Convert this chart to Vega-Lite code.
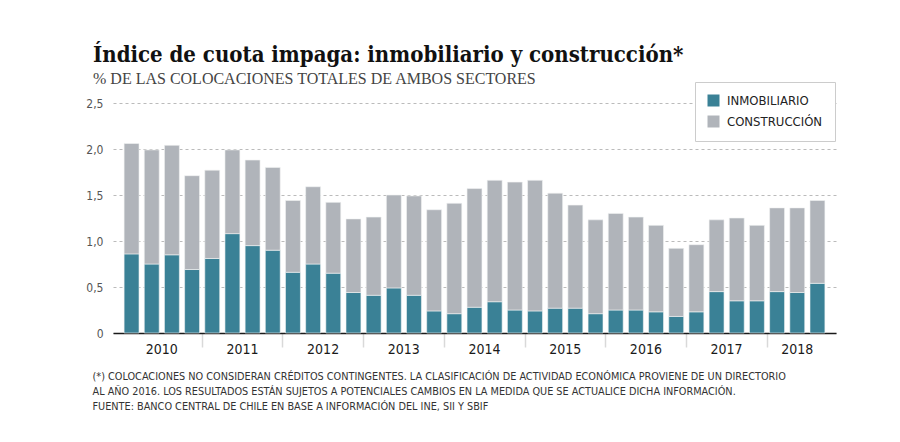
{
  "$schema": "https://vega.github.io/schema/vega-lite/v6.json",
  "width": 723,
  "height": 230,
  "autosize": {"type": "none"},
  "padding": {"left": 113, "top": 103, "right": 64, "bottom": 109},
  "background": "white",
  "title": {
    "text": "Índice de cuota impaga: inmobiliario y construcción*",
    "subtitle": "% DE LAS COLOCACIONES TOTALES DE AMBOS SECTORES",
    "anchor": "start",
    "frame": "group",
    "dx": -20,
    "offset": -6,
    "font": "DejaVu Serif Condensed",
    "fontSize": 22,
    "fontWeight": "bold",
    "color": "#111111",
    "subtitleFont": "Liberation Serif",
    "subtitleFontSize": 16,
    "subtitleColor": "#444444",
    "subtitlePadding": 4
  },
  "data": {
    "values": [
      {"q": "2010-1", "series": "INMOBILIARIO", "value": 0.86}, {"q": "2010-1", "series": "CONSTRUCCIÓN", "value": 1.20},
      {"q": "2010-2", "series": "INMOBILIARIO", "value": 0.75}, {"q": "2010-2", "series": "CONSTRUCCIÓN", "value": 1.24},
      {"q": "2010-3", "series": "INMOBILIARIO", "value": 0.85}, {"q": "2010-3", "series": "CONSTRUCCIÓN", "value": 1.19},
      {"q": "2010-4", "series": "INMOBILIARIO", "value": 0.69}, {"q": "2010-4", "series": "CONSTRUCCIÓN", "value": 1.02},
      {"q": "2011-1", "series": "INMOBILIARIO", "value": 0.81}, {"q": "2011-1", "series": "CONSTRUCCIÓN", "value": 0.96},
      {"q": "2011-2", "series": "INMOBILIARIO", "value": 1.08}, {"q": "2011-2", "series": "CONSTRUCCIÓN", "value": 0.91},
      {"q": "2011-3", "series": "INMOBILIARIO", "value": 0.95}, {"q": "2011-3", "series": "CONSTRUCCIÓN", "value": 0.93},
      {"q": "2011-4", "series": "INMOBILIARIO", "value": 0.90}, {"q": "2011-4", "series": "CONSTRUCCIÓN", "value": 0.90},
      {"q": "2012-1", "series": "INMOBILIARIO", "value": 0.66}, {"q": "2012-1", "series": "CONSTRUCCIÓN", "value": 0.78},
      {"q": "2012-2", "series": "INMOBILIARIO", "value": 0.75}, {"q": "2012-2", "series": "CONSTRUCCIÓN", "value": 0.84},
      {"q": "2012-3", "series": "INMOBILIARIO", "value": 0.65}, {"q": "2012-3", "series": "CONSTRUCCIÓN", "value": 0.77},
      {"q": "2012-4", "series": "INMOBILIARIO", "value": 0.44}, {"q": "2012-4", "series": "CONSTRUCCIÓN", "value": 0.80},
      {"q": "2013-1", "series": "INMOBILIARIO", "value": 0.41}, {"q": "2013-1", "series": "CONSTRUCCIÓN", "value": 0.85},
      {"q": "2013-2", "series": "INMOBILIARIO", "value": 0.49}, {"q": "2013-2", "series": "CONSTRUCCIÓN", "value": 1.01},
      {"q": "2013-3", "series": "INMOBILIARIO", "value": 0.41}, {"q": "2013-3", "series": "CONSTRUCCIÓN", "value": 1.08},
      {"q": "2013-4", "series": "INMOBILIARIO", "value": 0.24}, {"q": "2013-4", "series": "CONSTRUCCIÓN", "value": 1.10},
      {"q": "2014-1", "series": "INMOBILIARIO", "value": 0.21}, {"q": "2014-1", "series": "CONSTRUCCIÓN", "value": 1.20},
      {"q": "2014-2", "series": "INMOBILIARIO", "value": 0.28}, {"q": "2014-2", "series": "CONSTRUCCIÓN", "value": 1.29},
      {"q": "2014-3", "series": "INMOBILIARIO", "value": 0.34}, {"q": "2014-3", "series": "CONSTRUCCIÓN", "value": 1.32},
      {"q": "2014-4", "series": "INMOBILIARIO", "value": 0.25}, {"q": "2014-4", "series": "CONSTRUCCIÓN", "value": 1.39},
      {"q": "2015-1", "series": "INMOBILIARIO", "value": 0.24}, {"q": "2015-1", "series": "CONSTRUCCIÓN", "value": 1.42},
      {"q": "2015-2", "series": "INMOBILIARIO", "value": 0.27}, {"q": "2015-2", "series": "CONSTRUCCIÓN", "value": 1.25},
      {"q": "2015-3", "series": "INMOBILIARIO", "value": 0.27}, {"q": "2015-3", "series": "CONSTRUCCIÓN", "value": 1.12},
      {"q": "2015-4", "series": "INMOBILIARIO", "value": 0.21}, {"q": "2015-4", "series": "CONSTRUCCIÓN", "value": 1.02},
      {"q": "2016-1", "series": "INMOBILIARIO", "value": 0.25}, {"q": "2016-1", "series": "CONSTRUCCIÓN", "value": 1.05},
      {"q": "2016-2", "series": "INMOBILIARIO", "value": 0.25}, {"q": "2016-2", "series": "CONSTRUCCIÓN", "value": 1.01},
      {"q": "2016-3", "series": "INMOBILIARIO", "value": 0.23}, {"q": "2016-3", "series": "CONSTRUCCIÓN", "value": 0.94},
      {"q": "2016-4", "series": "INMOBILIARIO", "value": 0.18}, {"q": "2016-4", "series": "CONSTRUCCIÓN", "value": 0.74},
      {"q": "2017-1", "series": "INMOBILIARIO", "value": 0.23}, {"q": "2017-1", "series": "CONSTRUCCIÓN", "value": 0.73},
      {"q": "2017-2", "series": "INMOBILIARIO", "value": 0.45}, {"q": "2017-2", "series": "CONSTRUCCIÓN", "value": 0.78},
      {"q": "2017-3", "series": "INMOBILIARIO", "value": 0.35}, {"q": "2017-3", "series": "CONSTRUCCIÓN", "value": 0.90},
      {"q": "2017-4", "series": "INMOBILIARIO", "value": 0.35}, {"q": "2017-4", "series": "CONSTRUCCIÓN", "value": 0.82},
      {"q": "2018-1", "series": "INMOBILIARIO", "value": 0.45}, {"q": "2018-1", "series": "CONSTRUCCIÓN", "value": 0.91},
      {"q": "2018-2", "series": "INMOBILIARIO", "value": 0.44}, {"q": "2018-2", "series": "CONSTRUCCIÓN", "value": 0.92},
      {"q": "2018-3", "series": "INMOBILIARIO", "value": 0.54}, {"q": "2018-3", "series": "CONSTRUCCIÓN", "value": 0.90}
    ]
  },
  "mark": {"type": "bar", "stroke": "#f2f3f4", "strokeWidth": 0.6},
  "encoding": {
    "x": {
      "field": "q",
      "type": "nominal",
      "sort": null,
      "scale": {"paddingInner": 0.26, "paddingOuter": 0.55},
      "axis": {
        "title": [
          "(*) COLOCACIONES NO CONSIDERAN CRÉDITOS CONTINGENTES. LA CLASIFICACIÓN DE ACTIVIDAD ECONÓMICA PROVIENE DE UN DIRECTORIO",
          "AL AÑO 2016. LOS RESULTADOS ESTÁN SUJETOS A POTENCIALES CAMBIOS EN LA MEDIDA QUE SE ACTUALICE DICHA INFORMACIÓN.",
          "FUENTE: BANCO CENTRAL DE CHILE EN BASE A INFORMACIÓN DEL INE, SII Y SBIF"
        ],
        "titleFont": "DejaVu Sans Condensed",
        "titleFontSize": 10.8,
        "titleFontWeight": "normal",
        "titleColor": "#333333",
        "titleAnchor": "start",
        "titleAlign": "left",
        "titleBaseline": "top",
        "titleLineHeight": 15,
        "titleX": -21,
        "titleY": 37,
        "domainColor": "#1a1a1a",
        "domainWidth": 1.5,
        "bandPosition": -0.17,
        "tickSize": 14,
        "tickColor": "#d9d9d9",
        "tickWidth": 1.5,
        "tickOpacity": {"condition": {"test": "indexof(datum.value, '-1') > 0 && datum.value !== '2010-1'", "value": 1}, "value": 0},
        "labelExpr": "indexof(datum.value, '-2') > 0 ? slice(datum.value, 0, 4) : ''",
        "labelOffset": {"condition": {"test": "datum.value === '2018-2'", "value": 0}, "value": 10},
        "labelAngle": 0,
        "labelFont": "DejaVu Sans Condensed",
        "labelFontSize": 14,
        "labelColor": "#1a1a1a",
        "labelPadding": -5,
        "grid": false
      }
    },
    "y": {
      "field": "value",
      "type": "quantitative",
      "aggregate": "sum",
      "stack": "zero",
      "scale": {"domain": [0, 2.5], "nice": false},
      "axis": {
        "title": null,
        "values": [0, 0.5, 1, 1.5, 2, 2.5],
        "labelExpr": "datum.value == 0 ? '0' : replace(format(datum.value, '.1f'), '.', ',')",
        "labelFont": "DejaVu Sans Condensed",
        "labelFontSize": 12,
        "labelColor": "#555555",
        "labelPadding": 10,
        "domain": false,
        "ticks": false,
        "grid": true,
        "gridColor": "#bbbbbb",
        "gridDash": [3, 3],
        "gridWidth": 1
      }
    },
    "color": {
      "field": "series",
      "type": "nominal",
      "scale": {"domain": ["INMOBILIARIO", "CONSTRUCCIÓN"], "range": ["#3a8196", "#b0b4ba"]},
      "legend": {
        "title": null,
        "orient": "none",
        "legendX": 582,
        "legendY": -21,
        "direction": "vertical",
        "symbolType": "square",
        "symbolSize": 144,
        "symbolStrokeWidth": 0,
        "labelFont": "DejaVu Sans Condensed",
        "labelFontSize": 13,
        "labelColor": "#222222",
        "labelOffset": 7,
        "rowPadding": 7,
        "padding": 12,
        "strokeColor": "#cccccc",
        "fillColor": "white"
      }
    },
    "order": {"field": "series", "sort": "descending"}
  },
  "config": {
    "view": {"stroke": null},
    "axis": {"gridDash": [3, 3]}
  }
}
